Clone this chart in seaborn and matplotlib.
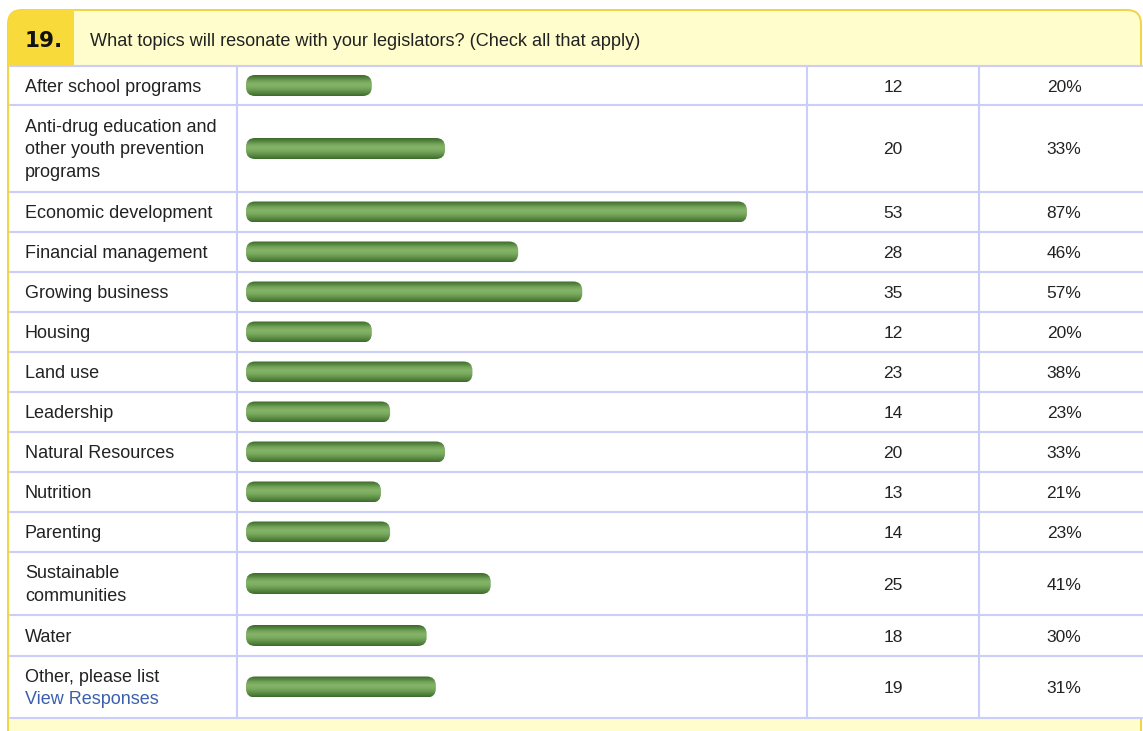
import numpy as np
import matplotlib.pyplot as plt
import seaborn as sns
from matplotlib.patches import FancyBboxPatch, Rectangle
from matplotlib.colors import LinearSegmentedColormap

sns.set_style("white")
plt.rcParams["font.family"] = ["Liberation Sans", "DejaVu Sans"]

# survey data
question_no = "19."
question = "What topics will resonate with your legislators? (Check all that apply)"
topics = ["After school programs",
          "Anti-drug education and\nother youth prevention\nprograms",
          "Economic development", "Financial management", "Growing business",
          "Housing", "Land use", "Leadership", "Natural Resources", "Nutrition",
          "Parenting", "Sustainable\ncommunities", "Water", "Other, please list"]
counts = [12, 20, 53, 28, 35, 12, 23, 14, 20, 13, 14, 25, 18, 19]
percents = [20, 33, 87, 46, 57, 20, 38, 23, 33, 21, 23, 41, 30, 31]
link_text = "View Responses"

# layout (pixels)
W, H = 1143, 731
row_h = [39, 87, 40, 40, 40, 40, 40, 40, 40, 40, 40, 63, 41, 62]
table_top = 66
edges = table_top + np.concatenate([[0], np.cumsum(row_h)])
centers = (edges[:-1] + edges[1:]) / 2
table_bot = edges[-1]
col_x = [237, 807, 979]
px_per_resp = 9.15
dy = 1.5  # text baseline nudge

grid_c = "#cdcdfa"
text_c = "#222222"

fig = plt.figure(figsize=(W / 100, H / 100), dpi=100)
bg = fig.add_axes([0, 0, 1, 1])
bg.set_xlim(0, W)
bg.set_ylim(H, 0)
bg.axis("off")

# yellow panel
panel = FancyBboxPatch((8, 10), 1133, 760, boxstyle="round,pad=0,rounding_size=14",
                       facecolor="#fffdcb", edgecolor="#f0d444", lw=1.4, zorder=1)
bg.add_patch(panel)
num_box = Rectangle((0, 0), 74, 65, facecolor="#f8da3a", edgecolor="none", zorder=2)
bg.add_patch(num_box)
num_box.set_clip_path(panel)

# white table
bg.add_patch(Rectangle((10, table_top), W, table_bot - table_top,
                       facecolor="white", edgecolor="none", zorder=3))
for y in edges:
    bg.plot([10, W], [y, y], color=grid_c, lw=1.5, zorder=3)
for x in col_x:
    bg.plot([x, x], [table_top, table_bot], color=grid_c, lw=1.5, zorder=3)

bg.text(25, 41, question_no, fontsize=15.5, fontweight="bold", family="DejaVu Sans",
        color="#111111", va="center", ha="left", zorder=5)
bg.text(90, 40 + dy, question, fontsize=13.1, color=text_c, va="center", ha="left", zorder=5)

# row texts
for i, (t, c, p) in enumerate(zip(topics, counts, percents)):
    yc = centers[i] + dy
    if i == len(topics) - 1:
        bg.text(25, yc - 11.5, t, fontsize=13, color=text_c, va="center", zorder=5)
        bg.text(25, yc + 11.5, link_text, fontsize=13, color="#3b5fae", va="center", zorder=5)
    else:
        bg.text(25, yc, t, fontsize=13, color=text_c, va="center",
                linespacing=1.4, zorder=5)
    bg.text(893, yc, str(c), fontsize=12.5, color=text_c, va="center", ha="center", zorder=5)
    bg.text(1064, yc, f"{p}%", fontsize=12.5, color=text_c, va="center", ha="center", zorder=5)

# bars drawn by seaborn, then restyled as rounded gradient pills
ax = fig.add_axes([254 / W, (H - table_bot) / H, (col_x[1] - 254) / W,
                   (table_bot - table_top) / H])
sns.barplot(x=counts, y=centers, orient="y", native_scale=True, errorbar=None,
            color="#5b8c44", ax=ax)
ax.set_xlim(0, (col_x[1] - 254) / px_per_resp)
ax.set_ylim(table_bot, table_top)
ax.axis("off")
ax.patch.set_alpha(0)

green = LinearSegmentedColormap.from_list(
    "pill", ["#3d6a2b", "#55863f", "#74a45a", "#84b468", "#7eae62", "#6c9c53",
             "#55853f", "#3e6a2c"])
grad = np.linspace(0, 1, 64).reshape(-1, 1)
to_bg = bg.transData.inverted()
bar_h = 21
for p in list(ax.patches):
    x0, w = p.get_x(), p.get_width()
    yc = p.get_y() + p.get_height() / 2
    (bx0, byc), (bx1, _) = to_bg.transform(ax.transData.transform([(x0, yc), (x0 + w, yc)]))
    p.remove()
    left, right, top = bx0 - 8, bx1 + 8, byc - bar_h / 2
    pill = FancyBboxPatch((left, top), right - left, bar_h,
                          boxstyle="round,pad=0,rounding_size=9",
                          facecolor="none", edgecolor="none", zorder=6)
    bg.add_patch(pill)
    im = bg.imshow(grad, cmap=green, extent=(left, right, top + bar_h, top),
                   origin="upper", aspect="auto", zorder=6)
    im.set_clip_path(pill)

bg.set_xlim(0, W)
bg.set_ylim(H, 0)

fig.savefig("out.png", dpi=100)
